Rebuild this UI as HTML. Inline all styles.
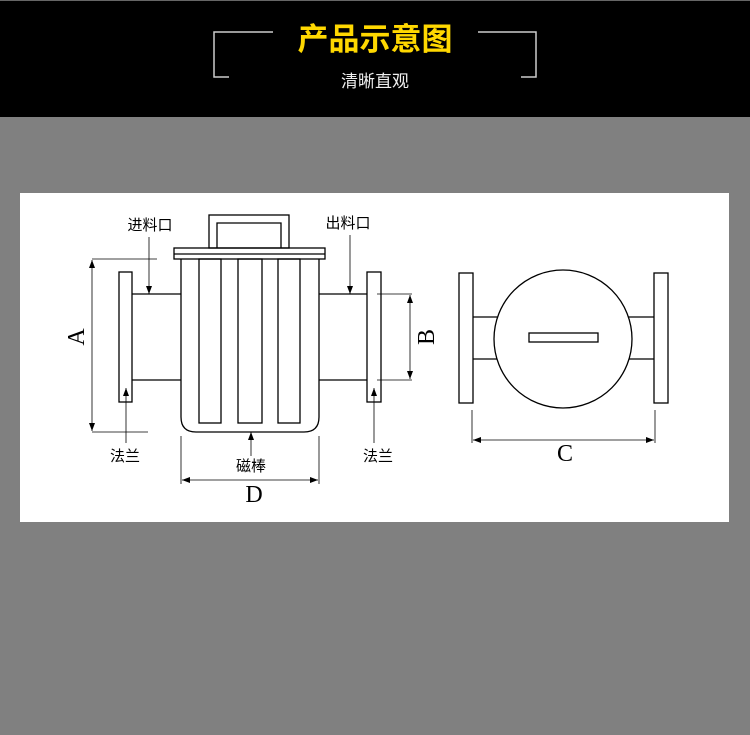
<!DOCTYPE html>
<html><head><meta charset="utf-8"><style>
html,body{margin:0;padding:0;width:750px;height:735px;background:#808080;overflow:hidden}
</style></head><body>
<svg width="750" height="735" xmlns="http://www.w3.org/2000/svg" style="position:absolute;left:0;top:0">
<defs>
<marker id="ar" markerWidth="8" markerHeight="6" refX="8" refY="3" orient="auto-start-reverse" markerUnits="userSpaceOnUse"><path d="M0,0 L8,3 L0,6 z" fill="#000"/></marker>
</defs>
<rect x="0" y="0" width="750" height="117" fill="#000"/>
<rect x="0" y="0" width="750" height="1" fill="#666"/>
<polyline points="273,32 214,32 214,77 229,77" fill="none" stroke="#ccc" stroke-width="1.5"/>
<polyline points="478,32 536,32 536,77 521,77" fill="none" stroke="#ccc" stroke-width="1.5"/>
<text x="375" y="50" text-anchor="middle" font-family="Liberation Sans, Noto Sans CJK SC, sans-serif" font-size="31" font-weight="bold" fill="#ffd800">产品示意图</text>
<text x="375" y="87" text-anchor="middle" font-family="Liberation Sans, Noto Sans CJK SC, sans-serif" font-size="17" fill="#eee">清晰直观</text>
<rect x="20" y="193" width="709" height="329" fill="#fff"/>
<g fill="none" stroke="#000" stroke-width="1.3">
<rect x="209" y="215" width="80" height="33"/>
<polyline points="217,248 217,223 281,223 281,248"/>
<rect x="174" y="248" width="151" height="11"/>
<line x1="174" y1="254" x2="325" y2="254"/>
<path d="M181,259 V294 H132 M181,259 V417 Q181,432 196,432 H304 Q319,432 319,417 V259 M181,417 V380 H132 M319,294 H367 M319,380 H367"/>
<rect x="119" y="272" width="13" height="130"/>
<rect x="367" y="272" width="14" height="130"/>
<rect x="199" y="259" width="22" height="164"/>
<rect x="238" y="259" width="24" height="164"/>
<rect x="278" y="259" width="22" height="164"/>
</g>
<g fill="none" stroke="#000" stroke-width="0.8">
<line x1="92" y1="259" x2="157" y2="259"/><line x1="92" y1="432" x2="148" y2="432"/>
<line x1="92" y1="260" x2="92" y2="431" marker-start="url(#ar)" marker-end="url(#ar)"/>
<line x1="377" y1="294" x2="412" y2="294"/><line x1="377" y1="380" x2="412" y2="380"/>
<line x1="410" y1="295" x2="410" y2="379" marker-start="url(#ar)" marker-end="url(#ar)"/>
<line x1="181" y1="436" x2="181" y2="484"/><line x1="319" y1="436" x2="319" y2="484"/>
<line x1="182" y1="480" x2="318" y2="480" marker-start="url(#ar)" marker-end="url(#ar)"/>
<line x1="149" y1="237" x2="149" y2="294" marker-end="url(#ar)"/>
<line x1="350" y1="235" x2="350" y2="294" marker-end="url(#ar)"/>
<line x1="126" y1="443" x2="126" y2="388" marker-end="url(#ar)"/>
<line x1="374" y1="443" x2="374" y2="388" marker-end="url(#ar)"/>
<line x1="251" y1="456" x2="251" y2="432" marker-end="url(#ar)"/>
<line x1="472" y1="410" x2="472" y2="443"/><line x1="655" y1="410" x2="655" y2="443"/>
<line x1="473" y1="440" x2="654" y2="440" marker-start="url(#ar)" marker-end="url(#ar)"/>
</g>
<g fill="none" stroke="#000" stroke-width="1.3">
<rect x="459" y="273" width="14" height="130"/>
<rect x="654" y="273" width="14" height="130"/>
<line x1="473" y1="317" x2="498" y2="317"/><line x1="473" y1="359" x2="498" y2="359"/>
<line x1="628" y1="317" x2="654" y2="317"/><line x1="628" y1="359" x2="654" y2="359"/>
<circle cx="563" cy="339" r="69" fill="#fff"/>
<rect x="529" y="333" width="69" height="9"/>
</g>
<g font-family="Liberation Sans, Noto Sans CJK SC, sans-serif" font-size="15" fill="#000" text-anchor="middle">
<text x="150" y="230">进料口</text>
<text x="348" y="228">出料口</text>
<text x="125" y="461">法兰</text>
<text x="378" y="461">法兰</text>
<text x="251" y="471">磁棒</text>
</g>
<g font-family="Liberation Serif, serif" font-size="24" fill="#000" text-anchor="middle">
<text x="254" y="502">D</text>
<text x="565" y="461">C</text>
<text transform="translate(84,337) rotate(-90)">A</text>
<text transform="translate(434,337) rotate(-90)">B</text>
</g>
</svg>
</body></html>
